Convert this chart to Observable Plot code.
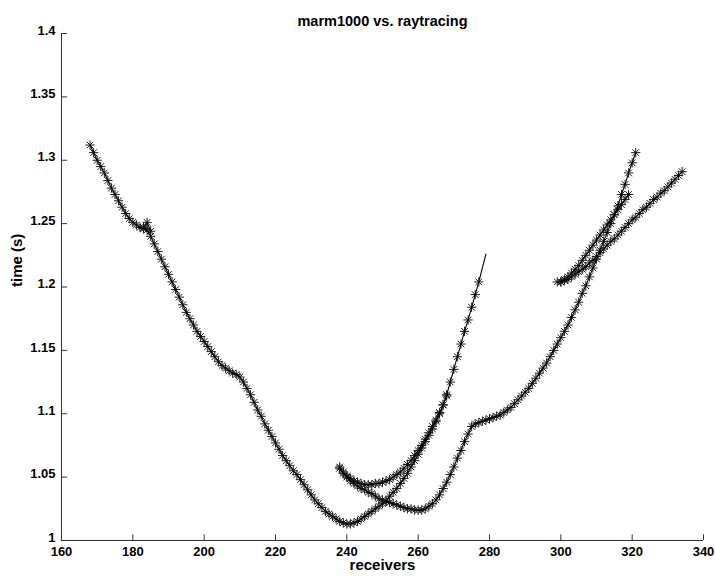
<!DOCTYPE html>
<html><head><meta charset="utf-8">
<script src="https://cdn.jsdelivr.net/npm/d3@7"></script>
<script src="https://cdn.jsdelivr.net/npm/@observablehq/plot@0.6"></script>
<style>body{margin:0;background:#fff}svg{display:block}</style>
</head><body><div id="chart"></div>
<script>
const chartTitle = "marm1000 vs. raytracing";
const xLabel = "receivers";
const yLabel = "time (s)";
const xTicks = [160, 180, 200, 220, 240, 260, 280, 300, 320, 340];
const yTicks = [1, 1.05, 1.1, 1.15, 1.2, 1.25, 1.3, 1.35, 1.4];
const yTickLabels = ["1", "1.05", "1.1", "1.15", "1.2", "1.25", "1.3", "1.35", "1.4"];

// branch: first receiver, then picked time at each consecutive receiver
const directStart = 168;
const directTime = [1.312,1.306,1.300,1.295,1.290,1.284,1.278,1.273,1.268,1.263,1.258,1.254,1.251,1.249,1.247,1.246,1.245,1.240,1.234,1.228,
 1.222,1.216,1.210,1.204,1.198,1.192,1.186,1.180,1.175,1.170,1.165,1.161,1.157,1.153,1.149,1.145,1.141,1.138,1.136,1.134,
 1.132,1.131,1.129,1.125,1.120,1.115,1.109,1.103,1.098,1.092,1.087,1.082,1.077,1.072,1.067,1.063,1.059,1.055,1.052,1.048,
 1.044,1.040,1.036,1.032,1.029,1.026,1.023,1.021,1.019,1.017,1.015,1.014,1.013,1.013,1.014,1.015,1.017,1.019,1.021,1.023,
 1.025,1.027,1.029,1.031,1.035,1.038,1.041,1.045,1.049,1.053,1.058,1.063,1.068,1.073,1.078,1.083,1.088,1.094,1.100,1.107,
 1.115,1.125,1.135,1.145,1.155,1.165,1.174,1.184,1.194,1.204];
const cuspStart = 183;
const cuspTime = [1.247, 1.251, 1.244];
const upperStart = 238;
const upperTime = [1.058,1.054,1.051,1.049,1.047,1.046,1.045,1.044,1.044,1.044,1.045,1.045,1.046,1.047,1.048,1.050,1.052,1.054,1.057,1.060,
 1.063,1.067,1.071,1.075,1.080,1.085,1.090,1.095,1.101,1.107,1.114];
const lowerStart = 238;
const lowerTime = [1.057,1.053,1.050,1.047,1.045,1.043,1.041,1.040,1.038,1.037,1.035,1.033,1.032,1.031,1.030,1.029,1.028,1.027,1.026,1.025,
 1.025,1.024,1.024,1.024,1.025,1.027,1.029,1.032,1.036,1.041,1.046,1.052,1.058,1.065,1.071,1.078,1.084,1.090,1.092,1.093,
 1.094,1.095,1.096,1.097,1.098,1.099,1.101,1.103,1.105,1.108,1.111,1.114,1.117,1.120,1.124,1.128,1.132,1.136,1.140,1.145,
 1.150,1.155,1.160,1.165,1.170,1.176,1.182,1.188,1.195,1.201,1.208,1.215,1.222,1.229,1.236,1.243,1.250,1.257,1.264,1.273,
 1.281,1.290,1.298,1.306];
const farStart = 299;
const farTime = [1.204,1.204,1.205,1.206,1.208,1.210,1.212,1.214,1.216,1.219,1.221,1.224,1.227,1.230,1.233,1.236,1.238,1.241,1.244,1.247,
 1.250,1.253,1.255,1.258,1.261,1.263,1.266,1.269,1.271,1.274,1.276,1.279,1.282,1.285,1.288,1.291];
const steepStart = 300;
const steepTime = [1.204,1.206,1.208,1.211,1.214,1.217,1.221,1.225,1.229,1.233,1.237,1.241,1.245,1.249,1.253,1.257,1.261,1.265,1.269,1.273];
// raytraced curve continues past the last pick on the direct branch
const rayExtraReceivers = [278, 279];
const rayExtraTime = [1.215, 1.226];

const branchDefs = [
  ["direct", directStart, directTime], ["cusp", cuspStart, cuspTime], ["upper", upperStart, upperTime],
  ["lower", lowerStart, lowerTime], ["far", farStart, farTime], ["steep", steepStart, steepTime]
];
const picks = branchDefs.flatMap(([b, s, ts]) => ts.map((t, i) => ({b, r: s + i, t})));
const rays = picks.concat(rayExtraReceivers.map((r, i) => ({b: "direct", r, t: rayExtraTime[i]})));

const font = "'Liberation Sans', Arial, Helvetica, sans-serif";
const plot = Plot.plot({
  width: 716, height: 576,
  marginLeft: 61, marginRight: 13, marginTop: 33, marginBottom: 36,
  style: {fontFamily: font, fontWeight: "bold", fontSize: "12px", color: "#000", background: "#fff"},
  x: {domain: [160, 340], ticks: xTicks},
  y: {domain: [1, 1.4], ticks: yTicks},
  marks: [
    Plot.axisX(xTicks, {tickSize: 0, tickPadding: 6, label: null, fontSize: 13}),
    Plot.axisY(yTicks, {tickSize: 0, tickPadding: 6, label: null, fontSize: 13, dy: -3, tickFormat: (d, i) => yTickLabels[i]}),
    Plot.ruleX(xTicks, {y1: 1, y2: 1 + 0.0045, stroke: "#333", strokeWidth: 1}),
    Plot.ruleY(yTicks, {x1: 160, x2: 161.7, stroke: "#333", strokeWidth: 1}),
    Plot.ruleY([1], {stroke: "#333", strokeWidth: 1}),
    Plot.ruleX([160], {stroke: "#333", strokeWidth: 1}),
    Plot.dot(picks, {x: "r", y: "t", symbol: "plus", r: 3.1, stroke: "#1a1a1a", strokeWidth: 1}),
    Plot.dot(picks, {x: "r", y: "t", symbol: "times", r: 3.1, stroke: "#1a1a1a", strokeWidth: 1}),
    Plot.line(rays, {x: "r", y: "t", z: "b", stroke: "#000", strokeWidth: 1.1}),
    Plot.text([chartTitle], {frameAnchor: "top", dy: -18, fontSize: 14.5, fontWeight: "bold", fill: "#000"}),
    Plot.text([xLabel], {frameAnchor: "bottom", dy: 29, fontSize: 15, fontWeight: "bold", fill: "#000"}),
    Plot.text([yLabel], {frameAnchor: "left", dx: -44, rotate: -90, fontSize: 15, fontWeight: "bold", fill: "#000"})
  ]
});
document.getElementById("chart").appendChild(plot);
</script>
</body></html>
